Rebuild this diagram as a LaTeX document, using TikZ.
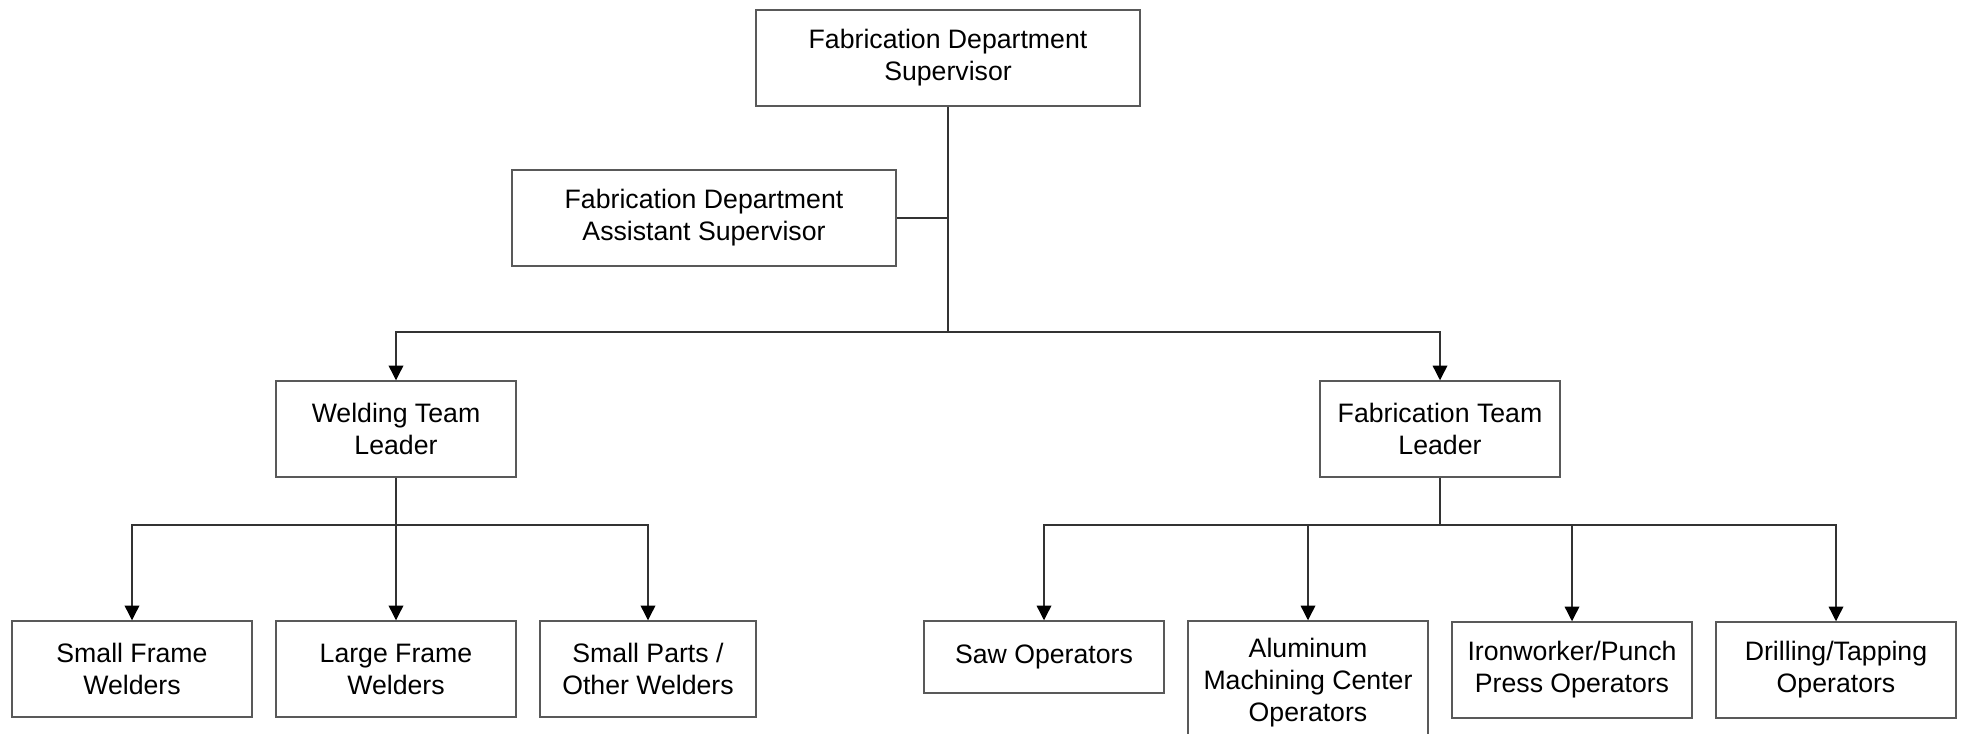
\documentclass[tikz,border=0pt]{standalone}
\usepackage{fontspec}
\setmainfont{Liberation Sans}
\usetikzlibrary{arrows.meta}
\begin{document}
\begin{tikzpicture}[x=0.75pt,y=-0.75pt,
  box/.style={draw=black!65,line width=1.1pt,inner sep=0pt,align=center,
    font=\fontsize{20}{24}\selectfont,fill=white},
  link/.style={draw=black!80,line width=1pt},
  arrowlink/.style={link,-{Triangle[width=11pt,length=11pt,color=black,fill=black]}}]
  \clip (0,0) rectangle (1961,734);
  \fill[white] (0,0) rectangle (1961,734);
  % management
  \node[box,minimum width=384*0.75pt,minimum height=96*0.75pt] (top) at (948,58)
    {Fabrication Department\\Supervisor};
  \node[box,minimum width=384*0.75pt,minimum height=96*0.75pt] (asst) at (704,218)
    {Fabrication Department\\Assistant Supervisor};
  % team leaders
  \node[box,minimum width=240*0.75pt,minimum height=96*0.75pt] (weld) at (396,429)
    {Welding Team\\Leader};
  \node[box,minimum width=240*0.75pt,minimum height=96*0.75pt] (fab) at (1440,429)
    {Fabrication Team\\Leader};
  % welding crews
  \node[box,minimum width=240*0.75pt,minimum height=96*0.75pt] (sf) at (132,669)
    {Small Frame\\Welders};
  \node[box,minimum width=240*0.75pt,minimum height=96*0.75pt] (lf) at (396,669)
    {Large Frame\\Welders};
  \node[box,minimum width=216*0.75pt,minimum height=96*0.75pt] (sp) at (648,669)
    {Small Parts /\\Other Welders};
  % fabrication crews
  \node[box,minimum width=240*0.75pt,minimum height=72*0.75pt] (saw) at (1044,657)
    {Saw Operators};
  \node[box,minimum width=240*0.75pt,minimum height=124*0.75pt] (alum) at (1308,683)
    {Aluminum\\Machining Center\\Operators};
  \node[box,minimum width=240*0.75pt,minimum height=96*0.75pt] (iron) at (1572,670)
    {Ironworker/Punch\\Press Operators};
  \node[box,minimum width=240*0.75pt,minimum height=96*0.75pt] (drill) at (1836,670)
    {Drilling/Tapping\\Operators};
  % junctions
  \coordinate (j1) at (948,332);
  \coordinate (j2) at (396,525);
  \coordinate (j3) at (1440,525);
  % connectors
  \draw[link] (top.south) -- (j1);
  \draw[link] (asst.east) -- (asst.east -| j1);
  \draw[arrowlink] (j1) -| (weld.north);
  \draw[arrowlink] (j1) -| (fab.north);
  \draw[link] (weld.south) -- (j2);
  \draw[arrowlink] (j2) -| (sf.north);
  \draw[arrowlink] (j2) -- (lf.north);
  \draw[arrowlink] (j2) -| (sp.north);
  \draw[link] (fab.south) -- (j3);
  \draw[arrowlink] (j3) -| (saw.north);
  \draw[arrowlink] (j3) -| (alum.north);
  \draw[arrowlink] (j3) -| (iron.north);
  \draw[arrowlink] (j3) -| (drill.north);
\end{tikzpicture}
\end{document}
